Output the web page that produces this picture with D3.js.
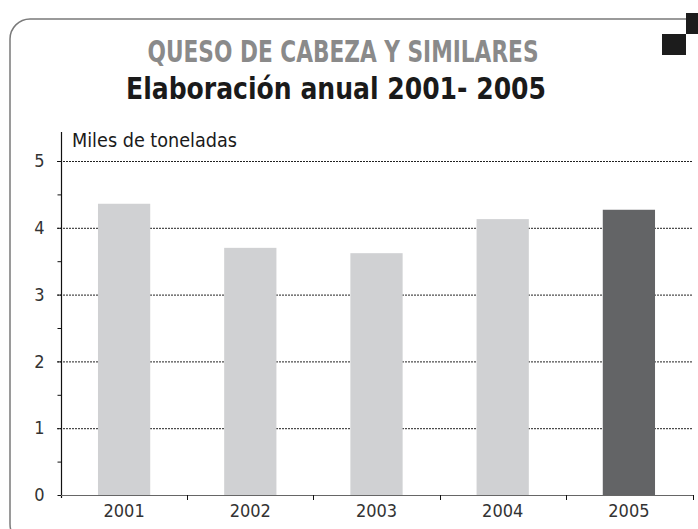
<!DOCTYPE html>
<html><head><meta charset="utf-8">
<script src="https://cdn.jsdelivr.net/npm/d3@7"></script>
<style>
html,body{margin:0;padding:0;background:#fff;}
svg{display:block;}
.cond{font-family:"Liberation Sans Narrow","Arial Narrow","DejaVu Sans Condensed",sans-serif;}
</style></head><body>
<svg id="c" width="698" height="529"></svg>
<script>
const categories = ["2001","2002","2003","2004","2005"];
const values = [4.36, 3.70, 3.62, 4.13, 4.27];
const highlight = [false, false, false, false, true];
const yTicks = [0,1,2,3,4,5];
const yMinorTicks = [0.5,1.5,2.5,3.5,4.5];
const title1 = "QUESO DE CABEZA Y SIMILARES";
const title2 = "Elaboración anual 2001- 2005";
const unitLabel = "Miles de toneladas";

(function(){
const svg = d3.select("#c");
const pLeft = 61, pRight = 692, pTop = 161, pBottom = 495;

// frame
svg.append("rect").attr("x",10).attr("y",19).attr("width",720).attr("height",525)
  .attr("rx",20).attr("ry",20).attr("fill","none").attr("stroke","#7a7a7a").attr("stroke-width",1.5);
svg.append("rect").attr("x",686).attr("y",13).attr("width",12).attr("height",21).attr("fill","#1c1c1c");
svg.append("rect").attr("x",662).attr("y",34).attr("width",24).attr("height",21).attr("fill","#1c1c1c");

// titles
svg.append("text").attr("class","cond").attr("x",343).attr("y",62).attr("text-anchor","middle")
  .attr("font-size",30).attr("font-weight","bold").attr("fill","#8a8a8a")
  .attr("textLength",391).attr("lengthAdjust","spacingAndGlyphs").text(title1);
svg.append("text").attr("class","cond").attr("x",336).attr("y",99).attr("text-anchor","middle")
  .attr("font-size",30).attr("font-weight","bold").attr("fill","#1a1a1a")
  .attr("textLength",420).attr("lengthAdjust","spacingAndGlyphs").text(title2);

const x = d3.scaleBand().domain(categories).range([pLeft, pRight]).paddingInner(0.586).paddingOuter(0.293);
const y = d3.scaleLinear().domain([0,5]).range([pBottom, pTop]);

// gridlines
svg.append("g").selectAll("line").data(yTicks.filter(d=>d>0)).join("line")
  .attr("x1",57).attr("x2",pRight+1).attr("y1",d=>y(d)+0.5).attr("y2",d=>y(d)+0.5)
  .attr("stroke","#222").attr("stroke-width",1).attr("stroke-dasharray","2,1");

// bars
svg.append("g").selectAll("rect").data(categories).join("rect")
  .attr("x",d=>x(d)).attr("width",x.bandwidth())
  .attr("y",(d,i)=>y(values[i])).attr("height",(d,i)=>y(0)-y(values[i]))
  .attr("fill",(d,i)=>highlight[i]?"#636466":"#d0d1d3");

// y axis
const yAxis = d3.axisLeft(y).tickValues(yTicks).tickSize(4).tickPadding(13).tickFormat(d3.format("d"));
const ya = svg.append("g").attr("transform",`translate(${pLeft+0.5},0)`).call(yAxis);
ya.select(".domain").remove();
ya.selectAll(".tick line").attr("stroke","#111");
ya.selectAll("text").attr("class","cond").attr("font-size",18).attr("fill","#333");
const yMinor = d3.axisLeft(y).tickValues(yMinorTicks).tickSize(4).tickFormat("");
const ym = svg.append("g").attr("transform",`translate(${pLeft+0.5},0)`).call(yMinor);
ym.select(".domain").remove();
ym.selectAll(".tick line").attr("stroke","#111");
svg.append("line").attr("x1",pLeft+0.5).attr("x2",pLeft+0.5).attr("y1",132).attr("y2",pBottom+3)
  .attr("stroke","#111").attr("stroke-width",1.2);

// x axis
const xa = svg.append("g").attr("transform",`translate(0,${pBottom})`)
  .call(d3.axisBottom(x).tickSize(0).tickPadding(9));
xa.select(".domain").remove();
xa.selectAll("text").attr("class","cond").attr("font-size",18).attr("fill","#333");
svg.append("line").attr("x1",pLeft).attr("x2",pRight+1).attr("y1",pBottom+0.5).attr("y2",pBottom+0.5)
  .attr("stroke","#666").attr("stroke-width",1.2);
const bounds = categories.slice(1).map(c=>x(c)-x.step()*x.paddingInner()/2).concat([pRight+0.5]);
svg.append("g").selectAll("line").data(bounds).join("line")
  .attr("x1",d=>Math.round(d)+0.5).attr("x2",d=>Math.round(d)+0.5).attr("y1",pBottom).attr("y2",pBottom+5)
  .attr("stroke","#111");

// unit label
svg.append("text").attr("class","cond").attr("x",72).attr("y",147).attr("font-size",19)
  .attr("fill","#1a1a1a").attr("textLength",165).attr("lengthAdjust","spacingAndGlyphs").text(unitLabel);
})();
</script></body></html>
